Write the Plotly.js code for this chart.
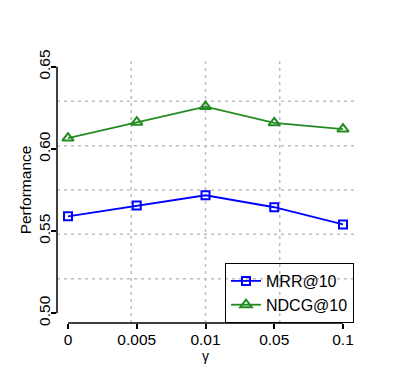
<!DOCTYPE html>
<html>
<head>
<meta charset="utf-8">
<script src="https://cdn.plot.ly/plotly-3.0.1.min.js"></script>
<style>
  body { margin: 0; background: #fff; }
  #chart { width: 412px; height: 381px; }
</style>
</head>
<body>
<div id="chart"></div>
<script>
// gamma values on the x axis (treated as categories)
const gammaLabels = ['0', '0.005', '0.01', '0.05', '0.1'];

const mrr10 = [0.559, 0.5655, 0.5718, 0.5645, 0.554];
const ndcg10 = [0.6066, 0.6163, 0.6258, 0.6159, 0.6121];

const yTicks = [0.50, 0.55, 0.60, 0.65];

const blue = '#0000FF';
const green = '#228B22';
const gridColor = '#BEBEBE';

// R-like extended ranges (4% each side)
const xRange = [-0.16, 4.16];
const yRange = [0.494, 0.656];

const data = [
  {
    x: gammaLabels,
    y: mrr10,
    name: 'MRR@10',
    type: 'scatter',
    mode: 'lines+markers',
    line: { color: blue, width: 1.8 },
    marker: { symbol: 'square-open', size: 8, color: blue, line: { width: 2, color: blue } }
  },
  {
    x: gammaLabels,
    y: ndcg10,
    name: 'NDCG@10',
    type: 'scatter',
    mode: 'lines+markers',
    line: { color: green, width: 1.8 },
    marker: { symbol: 'triangle-up-open', size: 10, color: green, line: { width: 2, color: green } }
  }
];

// grid like R's grid(nx = 4, ny = 6): equal splits of the plot region
const shapes = [];
for (let k = 1; k < 6; k++) {
  const yv = yRange[0] + k * (yRange[1] - yRange[0]) / 6;
  shapes.push({
    type: 'line', layer: 'below', xref: 'paper', yref: 'y',
    x0: 0, x1: 1, y0: yv, y1: yv,
    line: { color: gridColor, width: 1.5, dash: '3px,4px' }
  });
}
for (let k = 1; k < 4; k++) {
  const xv = xRange[0] + k * (xRange[1] - xRange[0]) / 4;
  shapes.push({
    type: 'line', layer: 'below', xref: 'x', yref: 'paper',
    x0: xv, x1: xv, y0: 0, y1: 1,
    line: { color: gridColor, width: 1.5, dash: '3px,4px' }
  });
}
// axis lines only between the first and last tick
shapes.push({
  type: 'line', xref: 'x', yref: 'paper',
  x0: 0, x1: gammaLabels.length - 1, y0: 0, y1: 0,
  line: { color: '#000', width: 1.5 }
});
shapes.push({
  type: 'line', xref: 'paper', yref: 'y',
  x0: 0, x1: 0, y0: yTicks[0], y1: yTicks[yTicks.length - 1],
  line: { color: '#000', width: 1.5 }
});

const layout = {
  width: 412,
  height: 381,
  margin: { l: 57, r: 58, t: 57, b: 58 },
  paper_bgcolor: '#fff',
  plot_bgcolor: '#fff',
  font: { family: 'Liberation Sans, Arial, sans-serif', size: 15, color: '#000' },
  showlegend: true,
  legend: {
    x: 1, y: 0, xanchor: 'right', yanchor: 'bottom',
    bgcolor: 'rgba(0,0,0,0)',
    bordercolor: '#000',
    borderwidth: 1,
    font: { size: 16 },
    tracegroupgap: 0,
    itemwidth: 30
  },
  xaxis: {
    type: 'category',
    range: xRange,
    showgrid: false,
    zeroline: false,
    showline: false,
    ticks: 'outside',
    ticklen: 5,
    tickwidth: 1.5,
    tickcolor: '#000',
    ticklabelstandoff: -3,
    tickfont: { size: 15.5 },
    title: { text: 'γ', standoff: 0, font: { size: 14 } }
  },
  yaxis: {
    range: yRange,
    tickvals: yTicks,
    ticktext: yTicks.map(v => v.toFixed(2)),
    tickangle: -90,
    showgrid: false,
    zeroline: false,
    showline: false,
    ticks: 'outside',
    ticklen: 5,
    tickwidth: 1.5,
    tickcolor: '#000',
    ticklabelstandoff: -5,
    tickfont: { size: 15.5 },
    title: { text: 'Performance', standoff: 0, font: { size: 15.5 } }
  },
  shapes: shapes
};

Plotly.newPlot('chart', data, layout, { displayModeBar: false, responsive: false });
</script>
</body>
</html>
